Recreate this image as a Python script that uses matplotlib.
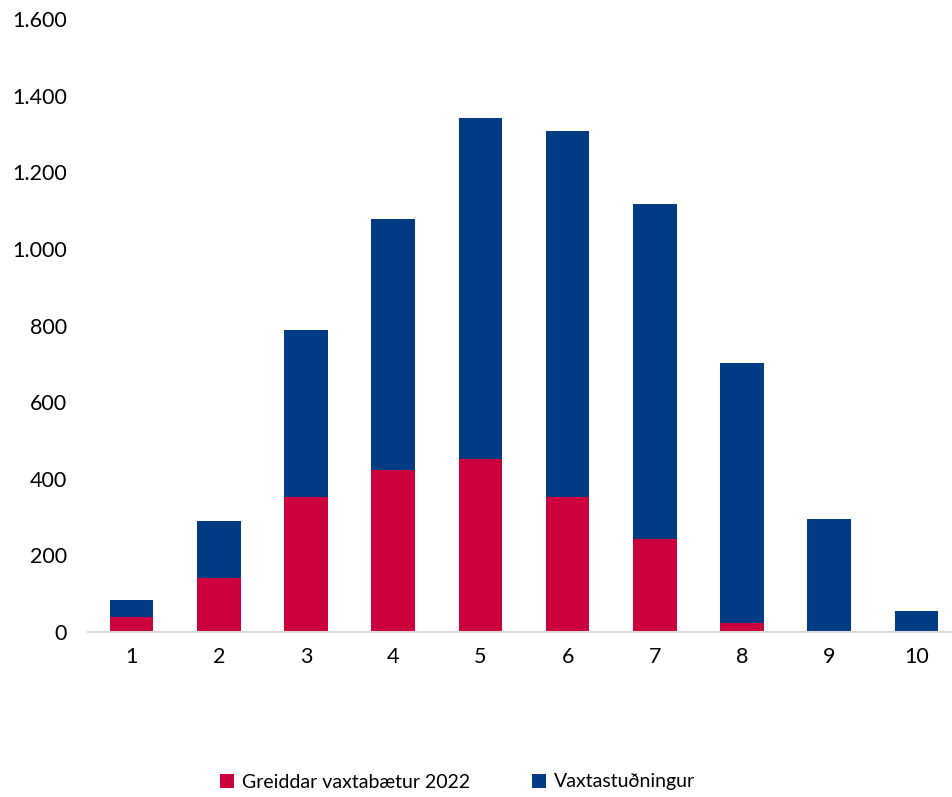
import matplotlib.pyplot as plt
import numpy as np

plt.rcParams['font.family'] = ['Lato', 'DejaVu Sans']

categories = ['1', '2', '3', '4', '5', '6', '7', '8', '9', '10']
greiddar = [39, 141, 352, 423, 452, 352, 243, 23, 0, 0]
totals = [84, 290, 788, 1078, 1342, 1308, 1117, 702, 295, 55]
vaxtastudningur = [t - g for t, g in zip(totals, greiddar)]

red = '#CC003D'
blue = '#003B84'

fig = plt.figure(figsize=(9.53, 7.97), dpi=100)
ax = fig.add_axes([88 / 953, 1 - 632 / 797, 865 / 953, 613 / 797])

x = np.arange(1, len(categories) + 1)
ax.bar(x, greiddar, width=0.5, color=red, label='Greiddar vaxtabætur 2022')
ax.bar(x, vaxtastudningur, width=0.5, bottom=greiddar, color=blue, label='Vaxtastuðningur')

ax.set_ylim(0, 1600)
ax.set_xlim(0.5, 10.42)
ax.set_yticks(range(0, 1601, 200))
ax.set_yticklabels([f'{v:,}'.replace(',', '.') for v in range(0, 1601, 200)])
ax.set_xticks(x)
ax.set_xticklabels(categories)
ax.tick_params(axis='both', length=0, labelsize=15.5, colors='black')
ax.tick_params(axis='y', pad=15)
ax.tick_params(axis='x', pad=11)

for s in ['top', 'right', 'left']:
    ax.spines[s].set_visible(False)
ax.spines['bottom'].set_color('#D9D9D9')
ax.spines['bottom'].set_linewidth(1.5)

fig.legend(loc='center', bbox_to_anchor=(0.48, 1 - 782 / 797), ncol=2, frameon=False,
           fontsize=14, handlelength=0.7, handleheight=0.7, handletextpad=0.4,
           columnspacing=3.2)

fig.savefig('out.png', dpi=100)
